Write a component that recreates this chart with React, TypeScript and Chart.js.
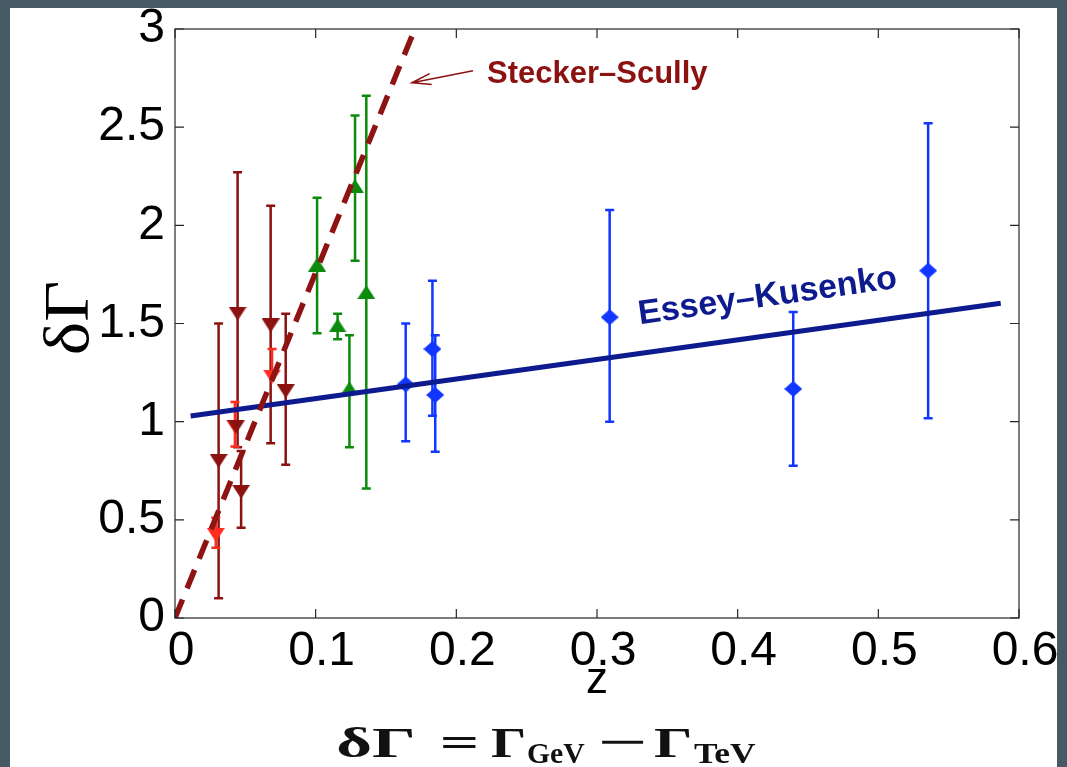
import React, { useEffect, useRef } from "react";
import { Chart, registerables } from "chart.js";

Chart.register(...registerables);

// ---------- axes ----------
const xTickValues = [0, 0.1, 0.2, 0.3, 0.4, 0.5, 0.6];
const xTickLabels = ["0", "0.1", "0.2", "0.3", "0.4", "0.5", "0.6"];
const yTickValues = [0, 0.5, 1, 1.5, 2, 2.5, 3];
const yTickLabels = ["0", "0.5", "1", "1.5", "2", "2.5", "3"];

// ---------- data ----------
// dark red (down triangles)
const darkRedZ = [0.031, 0.0435, 0.0445, 0.047, 0.068, 0.0787];
const darkRedY = [0.8, 0.975, 1.55, 0.643, 1.49, 1.155];
const darkRedLo = [0.1, null, 0.87, 0.46, 0.89, 0.78];
const darkRedHi = [1.5, null, 2.27, 0.85, 2.1, 1.55];

// bright red (down triangles)
const redZ = [0.029, 0.0426, 0.069];
const redY = [0.423, 0.975, 1.23];
const redLo = [0.358, 0.873, null];
const redHi = [0.511, 1.1, 1.37];

// green (up triangles)
const greenZ = [0.101, 0.1156, 0.124, 0.128, 0.136];
const greenY = [1.8, 1.49, 1.17, 2.2, 1.66];
const greenLo = [1.45, 1.42, 0.87, 1.82, 0.66];
const greenHi = [2.14, 1.55, 1.44, 2.56, 2.66];

// blue (diamonds)
const blueZ = [0.164, 0.183, 0.185, 0.309, 0.4395, 0.5354];
const blueY = [1.19, 1.37, 1.136, 1.532, 1.167, 1.769];
const blueLo = [0.9, 1.03, 0.847, 1.0, 0.776, 1.017];
const blueHi = [1.5, 1.718, 1.44, 2.078, 1.559, 2.52];

// model curves
const steckerZ = [0, 0.1705];
const steckerY = [0, 3.0];
const esseyZ = [0.0111, 0.587];
const esseyY = [1.029, 1.603];

// ---------- colours ----------
const DARK_RED = "#8C1212";
const RED = "#FF2D1F";
const GREEN = "#0B8A0B";
const BLUE = "#1136FF";
const NAVY = "#0D1B8F";
const FRAME = "#262626";

const SANS = "'Liberation Sans', Arial, Helvetica, sans-serif";
const SERIF = "'Liberation Serif', 'DejaVu Serif', 'Times New Roman', serif";

function pts(z: number[], y: number[]) {
  return z.map((v, i) => ({ x: v, y: y[i] }));
}

function makeMarker(kind: string, color: string): HTMLCanvasElement {
  const c = document.createElement("canvas");
  const w = 18;
  const h = kind === "diamond" ? 16 : 14;
  c.width = w;
  c.height = h;
  const g = c.getContext("2d")!;
  g.fillStyle = color;
  g.beginPath();
  if (kind === "down") {
    g.moveTo(0, 0);
    g.lineTo(w, 0);
    g.lineTo(w / 2, h);
  } else if (kind === "up") {
    g.moveTo(w / 2, 0);
    g.lineTo(w, h);
    g.lineTo(0, h);
  } else {
    g.moveTo(w / 2, 0);
    g.lineTo(w, h / 2);
    g.lineTo(w / 2, h);
    g.lineTo(0, h / 2);
  }
  g.closePath();
  g.fill();
  return c;
}

// draw text so that its ink spans [left, right] horizontally (in current transform)
function fitText(ctx: CanvasRenderingContext2D, text: string, left: number, right: number, baseline: number, font: string) {
  ctx.font = font;
  ctx.textAlign = "left";
  ctx.textBaseline = "alphabetic";
  const m = ctx.measureText(text);
  const abl = m.actualBoundingBoxLeft;
  const w = abl + m.actualBoundingBoxRight;
  const sx = (right - left) / w;
  ctx.save();
  ctx.translate(left, baseline);
  ctx.scale(sx, 1);
  ctx.fillText(text, abl, 0);
  ctx.restore();
}

const errSeries = [
  { color: DARK_RED, z: darkRedZ, lo: darkRedLo, hi: darkRedHi },
  { color: RED, z: redZ, lo: redLo, hi: redHi },
  { color: GREEN, z: greenZ, lo: greenLo, hi: greenHi },
  { color: BLUE, z: blueZ, lo: blueLo, hi: blueHi },
];
const errY = [darkRedY, redY, greenY, blueY];

const decorPlugin = {
  id: "decor",
  beforeDraw(chart: any) {
    const ctx = chart.ctx;
    ctx.save();
    ctx.fillStyle = "#455A64";
    ctx.fillRect(0, 0, chart.width, chart.height);
    ctx.fillStyle = "#FFFFFF";
    ctx.fillRect(10, 8, chart.width - 20, chart.height - 8);
    ctx.restore();
  },
  beforeDatasetsDraw(chart: any) {
    const ctx = chart.ctx;
    const xs = chart.scales.x;
    const ys = chart.scales.y;
    ctx.save();
    errSeries.forEach((s, si) => {
      ctx.strokeStyle = s.color;
      ctx.lineWidth = 2.5;
      s.z.forEach((z, i) => {
        const lo = s.lo[i];
        const hi = s.hi[i];
        const yv = errY[si][i];
        const px = xs.getPixelForValue(z);
        const pLo = ys.getPixelForValue(lo == null ? yv : lo);
        const pHi = ys.getPixelForValue(hi == null ? yv : hi);
        ctx.beginPath();
        ctx.moveTo(px, pLo);
        ctx.lineTo(px, pHi);
        if (lo != null) {
          ctx.moveTo(px - 4.5, pLo);
          ctx.lineTo(px + 4.5, pLo);
        }
        if (hi != null) {
          ctx.moveTo(px - 4.5, pHi);
          ctx.lineTo(px + 4.5, pHi);
        }
        ctx.stroke();
      });
    });
    ctx.restore();
  },
  afterDraw(chart: any) {
    const ctx = chart.ctx;
    const a = chart.chartArea;
    const xs = chart.scales.x;
    const ys = chart.scales.y;
    ctx.save();
    // frame
    ctx.strokeStyle = FRAME;
    ctx.lineWidth = 1.2;
    ctx.strokeRect(a.left, a.top, a.right - a.left, a.bottom - a.top);
    // inward ticks
    const tl = 9;
    ctx.beginPath();
    xTickValues.forEach((v) => {
      const px = xs.getPixelForValue(v);
      ctx.moveTo(px, a.bottom);
      ctx.lineTo(px, a.bottom - tl);
      ctx.moveTo(px, a.top);
      ctx.lineTo(px, a.top + tl);
    });
    yTickValues.forEach((v) => {
      const py = ys.getPixelForValue(v);
      ctx.moveTo(a.left, py);
      ctx.lineTo(a.left + tl, py);
      ctx.moveTo(a.right, py);
      ctx.lineTo(a.right - tl, py);
    });
    ctx.stroke();

    // axis titles
    ctx.fillStyle = "#000";
    ctx.font = `44px ${SANS}`;
    ctx.textAlign = "center";
    ctx.textBaseline = "alphabetic";
    ctx.fillText("z", 597, 693);

    ctx.save();
    ctx.translate(88, 0);
    ctx.rotate(-Math.PI / 2);
    fitText(ctx, "δΓ", -353, -283, 0, `64px ${SERIF}`);
    ctx.restore();

    // Stecker-Scully label and arrow
    ctx.fillStyle = DARK_RED;
    ctx.font = `bold 31px ${SANS}`;
    ctx.textAlign = "left";
    ctx.fillText("Stecker–Scully", 487, 83);
    const tip = { x: 412, y: 82.7 };
    const tail = { x: 473, y: 70.7 };
    const dx = tail.x - tip.x;
    const dy = tail.y - tip.y;
    const len = Math.hypot(dx, dy);
    const ux = dx / len;
    const uy = dy / len;
    ctx.strokeStyle = DARK_RED;
    ctx.lineWidth = 1.6;
    ctx.beginPath();
    ctx.moveTo(tail.x, tail.y);
    ctx.lineTo(tip.x, tip.y);
    ctx.moveTo(tip.x + ux * 19 - uy * 5.5, tip.y + uy * 19 + ux * 5.5);
    ctx.lineTo(tip.x, tip.y);
    ctx.lineTo(tip.x + ux * 19 + uy * 5.5, tip.y + uy * 19 - ux * 5.5);
    ctx.stroke();

    // Essey-Kusenko label
    ctx.save();
    ctx.translate(769, 306);
    ctx.rotate((-8 * Math.PI) / 180);
    ctx.fillStyle = NAVY;
    ctx.font = `bold 34px ${SANS}`;
    ctx.textAlign = "center";
    ctx.fillText("Essey–Kusenko", 0, 0);
    ctx.restore();

    // formula  δΓ = Γ_GeV − Γ_TeV
    ctx.fillStyle = "#111";
    const main = `bold 42px ${SERIF}`;
    const op = `bold 42px ${SERIF}`;
    const sub = `bold 30px ${SERIF}`;
    const base = 757;
    fitText(ctx, "δΓ", 338, 413, base, main);
    fitText(ctx, "=", 443, 476, base - 1, op);
    fitText(ctx, "Γ", 491, 524, base, main);
    fitText(ctx, "GeV", 528, 585, base + 6, sub);
    fitText(ctx, "−", 602, 644, base - 1, op);
    fitText(ctx, "Γ", 654, 690, base, main);
    fitText(ctx, "TeV", 694, 756, base + 6, sub);
    ctx.restore();
  },
};

export default function App() {
  const ref = useRef<HTMLCanvasElement | null>(null);

  useEffect(() => {
    document.body.style.margin = "0";
    const canvas = ref.current!;
    const mDown = makeMarker("down", DARK_RED);
    const mRed = makeMarker("down", RED);
    const mUp = makeMarker("up", GREEN);
    const mDia = makeMarker("diamond", BLUE);

    const chart = new Chart(canvas, {
      type: "scatter",
      data: {
        datasets: [
          {
            label: "Stecker-Scully",
            data: pts(steckerZ, steckerY),
            showLine: true,
            borderColor: "#8E1414",
            borderWidth: 5.5,
            borderDash: [20, 12],
            borderCapStyle: "butt",
            pointRadius: 0,
          },
          {
            label: "Essey-Kusenko",
            data: pts(esseyZ, esseyY),
            showLine: true,
            borderColor: NAVY,
            borderWidth: 5,
            pointRadius: 0,
          },
          {
            label: "dark red",
            data: pts(darkRedZ, darkRedY),
            pointStyle: mDown as any,
            pointRadius: 8,
          },
          {
            label: "red",
            data: pts(redZ, redY),
            pointStyle: mRed as any,
            pointRadius: 8,
          },
          {
            label: "green",
            data: pts(greenZ, greenY),
            pointStyle: mUp as any,
            pointRadius: 8,
          },
          {
            label: "blue",
            data: pts(blueZ, blueY),
            pointStyle: mDia as any,
            pointRadius: 8,
          },
        ] as any,
      },
      options: {
        animation: false,
        responsive: false,
        devicePixelRatio: 1,
        events: [],
        layout: { padding: { left: 0, right: 48, top: 29, bottom: 0 } },
        plugins: { legend: { display: false }, tooltip: { enabled: false } },
        scales: {
          x: {
            type: "linear",
            min: 0,
            max: 0.6,
            afterBuildTicks: (s: any) => {
              s.ticks = xTickValues.map((v) => ({ value: v }));
            },
            afterFit: (s: any) => {
              s.height = 149;
              s.paddingLeft = 0;
              s.paddingRight = 0;
              s.paddingTop = 0;
              s.paddingBottom = 0;
            },
            grid: { display: false },
            border: { display: false },
            ticks: {
              autoSkip: false,
              maxRotation: 0,
              padding: 2,
              labelOffset: 6,
              color: "#000",
              font: { family: SANS, size: 48, lineHeight: 1 },
              callback: (_v: any, i: number) => xTickLabels[i],
            },
          },
          y: {
            type: "linear",
            min: 0,
            max: 3,
            afterBuildTicks: (s: any) => {
              s.ticks = yTickValues.map((v) => ({ value: v }));
            },
            afterFit: (s: any) => {
              s.width = 175;
              s.paddingLeft = 0;
              s.paddingRight = 0;
              s.paddingTop = 0;
              s.paddingBottom = 0;
            },
            grid: { display: false },
            border: { display: false },
            ticks: {
              autoSkip: false,
              padding: 2,
              color: "#000",
              font: { family: SANS, size: 48, lineHeight: 1 },
              callback: (_v: any, i: number) => yTickLabels[i],
            },
          },
        },
      } as any,
      plugins: [decorPlugin as any],
    });
    return () => chart.destroy();
  }, []);

  return (
    <div style={{ position: "fixed", left: 0, top: 0, width: 1067, height: 767 }}>
      <canvas ref={ref} width={1067} height={767} style={{ display: "block" }} />
    </div>
  );
}
